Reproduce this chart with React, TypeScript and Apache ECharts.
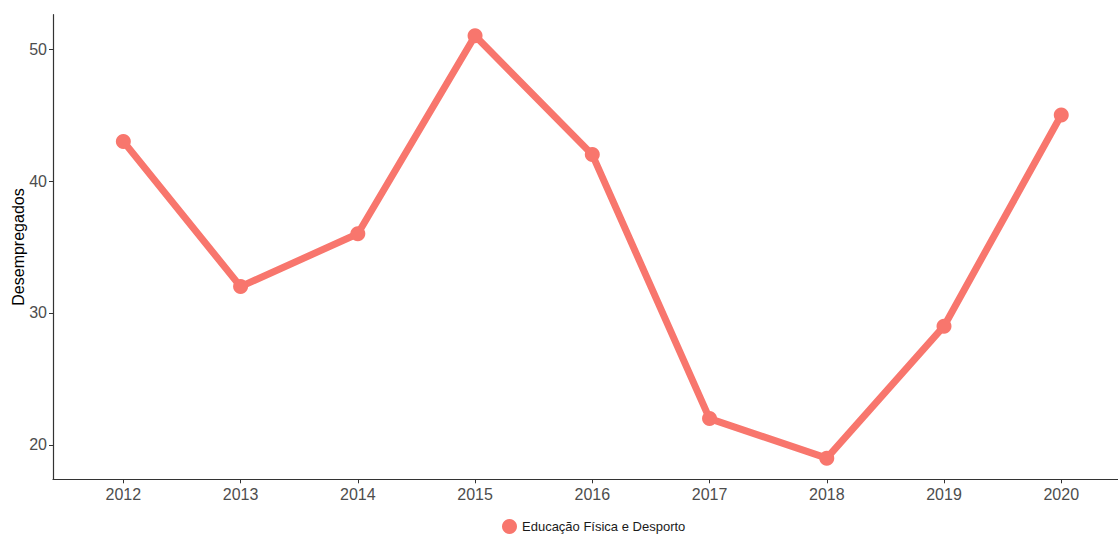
import React, { useEffect, useRef } from "react";
import * as echarts from "echarts";

const years = [2012, 2013, 2014, 2015, 2016, 2017, 2018, 2019, 2020];
const desempregados = [43, 32, 36, 51, 42, 22, 19, 29, 45];
const yTicks = [20, 30, 40, 50];
const seriesName = "Educação Física e Desporto";

export default function App() {
  const ref = useRef<HTMLDivElement>(null);
  useEffect(() => {
    const chart = echarts.init(ref.current!, null, { renderer: "svg" });
    const font = "Liberation Sans, Arial, sans-serif";
    chart.setOption({
      animation: false,
      backgroundColor: "#ffffff",
      textStyle: { fontFamily: font },
      grid: { left: 53, top: 14.7, bottom: 55.7, width: 1078.6, containLabel: false, outerBoundsMode: "none" },
      legend: {
        top: 519,
        left: 502,
        padding: 0,
        icon: "circle",
        itemWidth: 15,
        itemHeight: 15,
        itemGap: 6,
        textStyle: { fontSize: 13, color: "#1a1a1a", fontFamily: font },
        data: [seriesName],
      },
      xAxis: {
        type: "value",
        min: 2011.4,
        max: 2020.6,
        splitLine: { show: false },
        axisLine: { show: true, lineStyle: { color: "#333333", width: 1.2 } },
        axisTick: { show: true, length: 4, customValues: years, lineStyle: { color: "#333333" } },
        axisLabel: { customValues: years, fontSize: 16, color: "#4d4d4d", margin: 7, formatter: (v: number) => String(v) },
      },
      yAxis: {
        type: "value",
        min: 17.4,
        max: 52.6,
        name: "Desempregados",
        nameLocation: "middle",
        nameGap: 27,
        nameMoveOverlap: false,
        nameTextStyle: { fontSize: 16, color: "#000000", fontFamily: font },
        splitLine: { show: false },
        axisLine: { show: true, lineStyle: { color: "#333333", width: 1.2 } },
        axisTick: { show: true, length: 4, customValues: yTicks, lineStyle: { color: "#333333" } },
        axisLabel: { customValues: yTicks, fontSize: 16, color: "#4d4d4d", margin: 6 },
      },
      series: [
        {
          name: seriesName,
          type: "line",
          data: years.map((y, i) => [y, desempregados[i]]),
          symbol: "circle",
          symbolSize: 15,
          itemStyle: { color: "#F8766D" },
          lineStyle: { color: "#F8766D", width: 7 },
        },
      ],
    });
    return () => chart.dispose();
  }, []);
  return (
    <div style={{ position: "fixed", left: 0, top: 0, width: 1118, height: 535, overflow: "hidden", background: "#fff" }}>
      <div ref={ref} style={{ width: 1140, height: 535 }} />
    </div>
  );
}
